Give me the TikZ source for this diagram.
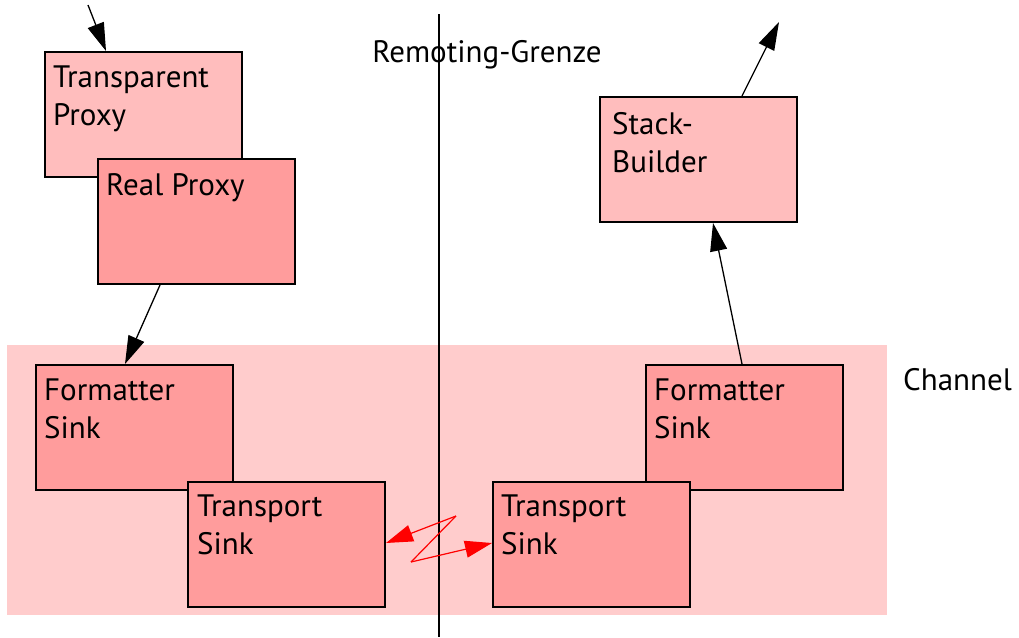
\documentclass[tikz,border=0pt]{standalone}
\usepackage{fontspec}
\setmainfont{PT Sans}
\usetikzlibrary{arrows.meta}
\definecolor{lightbox}{HTML}{FFBDBD}
\definecolor{darkbox}{HTML}{FF9C9C}
\definecolor{chanbg}{HTML}{FFCCCC}
\begin{document}
\begin{tikzpicture}[x=1pt,y=-1pt,
  box/.style={rectangle, draw=black, line width=2pt, anchor=north west, minimum width=197pt, minimum height=125pt, inner sep=0pt},
  boxtext/.style={anchor=north west, align=left, inner sep=0pt, font=\fontsize{31}{38}\selectfont},
  lbl/.style={font=\fontsize{31}{36}\selectfont, inner sep=0pt},
  flow/.style={line width=1.3pt, -{Triangle[length=28pt,width=17pt]}},
  zig/.style={red, line width=1.2pt},
  zigtip/.style={zig, -{Triangle[length=27pt,width=17pt]}}
]
\useasboundingbox (0,0) rectangle (1019,637);
% channel background
\fill[chanbg] (7,345) rectangle (887,615);
% boundary line
\coordinate (btop) at (439,14);
\coordinate (bbot) at (439,637);
\draw[line width=2pt] (btop) -- (bbot);
\node[lbl, anchor=base] (grenze) at (487,62) {Remoting-Grenze};
\node[lbl, anchor=base west] (chan) at (903,390) {Channel};
% boxes
\node[box, fill=lightbox] (tp) at (44,51) {};
\node[box, fill=darkbox] (rp) at (97,158) {};
\node[box, fill=lightbox] (sb) at (599,96) {};
\node[box, fill=darkbox] (fsl) at (35,364) {};
\node[box, fill=darkbox] (tsl) at (187,481) {};
\node[box, fill=darkbox] (fsr) at (645,364) {};
\node[box, fill=darkbox] (tsr) at (492,481) {};
% texts
\node[boxtext] (tpt) at ([shift={(9,15)}]tp.north west) {Transparent\\Proxy};
\node[boxtext] (rpt) at ([shift={(9,15)}]rp.north west) {Real Proxy};
\node[boxtext] (sbt) at ([shift={(13,16)}]sb.north west) {Stack-\\Builder};
\node[boxtext] (fslt) at ([shift={(9,15)}]fsl.north west) {Formatter\\Sink};
\node[boxtext] (tslt) at ([shift={(10,14)}]tsl.north west) {Transport\\Sink};
\node[boxtext] (fsrt) at ([shift={(9,15)}]fsr.north west) {Formatter\\Sink};
\node[boxtext] (tsrt) at ([shift={(9,14)}]tsr.north west) {Transport\\Sink};
% connectors
\coordinate (in) at (88,5);
\coordinate (out) at (779,22);
\draw[flow] (in) -- (tp.north west -| 106,0);
\draw[flow] (rp.south west -| 160,0) -- (fsl.north west -| 125,0);
\draw[flow] (fsr.north west -| 742,0) -- (sb.south west -| 713,0);
\draw[flow] (sb.north west -| 742,0) -- (out);
% red zigzag
\coordinate (z1) at (456,516);
\coordinate (z2) at (411,562);
\draw[zigtip] (z1) -- (tsl.south east |- 0,543);
\draw[zig] (z1) -- (z2);
\draw[zigtip] (z2) -- (tsr.north west |- 0,543);
\end{tikzpicture}
\end{document}
